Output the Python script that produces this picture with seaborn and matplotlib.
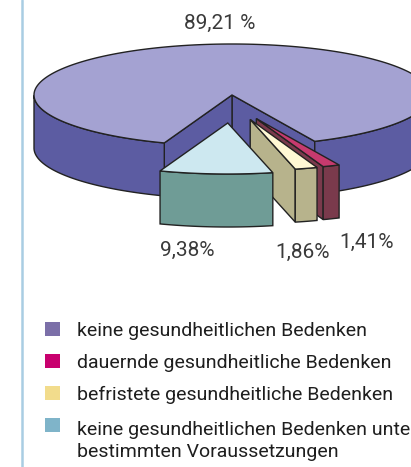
import numpy as np
import matplotlib
matplotlib.use('Agg')
import matplotlib.pyplot as plt
import seaborn as sns
from matplotlib.patches import Polygon, Rectangle

categories = ['keine gesundheitlichen Bedenken',
              'dauernde gesundheitliche Bedenken',
              'befristete gesundheitliche Bedenken',
              'keine gesundheitlichen Bedenken unter\nbestimmten Voraussetzungen']
values = [89.21, 1.41, 1.86, 9.38]
pct_labels = ['89,21 %', '1,41%', '1,86%', '9,38%']
legend_colors = ['#7b6fa8', '#c8006e', '#f2dc8c', '#7fb4c9']
top_colors = ['#a4a2d2', '#c63a6e', '#fff8d4', '#cde8f0']
side_colors = ['#5c5ca2', '#7a3a4c', '#b7b38c', '#6f9c96']
explode = [0.0, 0.5, 0.5, 0.55]

sns.set_theme(style='white')
plt.rcParams['font.family'] = ['Roboto', 'DejaVu Sans']

fig = plt.figure(figsize=(4.11, 4.67), dpi=100)
ax = fig.add_axes([0, 0, 1, 1])
ax.set_xlim(0, 411)
ax.set_ylim(467, 0)
ax.axis('off')

# pie geometry (pixel space)
cx, cy, rx, ry, depth = 232, 95, 198, 51, 53
edge = '#222222'


def pt(t, ox, oy, dz=0.0):
    r = np.radians(t)
    return cx + ox + rx * np.cos(r), cy + oy - ry * np.sin(r) + dz


def draw_slice(t1, t2, ox, oy, top, side):
    # radial cut faces
    for t, show in ((t1, np.cos(np.radians(t1)) > 0), (t2, np.cos(np.radians(t2)) < 0)):
        if show:
            x0, y0 = cx + ox, cy + oy
            x1, y1 = pt(t, ox, oy)
            ax.add_patch(Polygon([(x0, y0), (x1, y1), (x1, y1 + depth), (x0, y0 + depth)],
                                 closed=True, fc=side, ec=edge, lw=1))
    # outer wall, front part only
    ts = np.linspace(t1, t2, 400)
    vis = np.sin(np.radians(ts)) < 0
    segs, cur = [], []
    for t, v in zip(ts, vis):
        if v:
            cur.append(t)
        elif cur:
            segs.append(cur)
            cur = []
    if cur:
        segs.append(cur)
    for seg in segs:
        seg = np.array(seg)
        xt, yt = pt(seg, ox, oy)
        xb, yb = pt(seg[::-1], ox, oy, depth)
        ax.add_patch(Polygon(np.column_stack([np.r_[xt, xb], np.r_[yt, yb]]),
                             closed=True, fc=side, ec=edge, lw=1))
    # top face
    xt, yt = pt(ts, ox, oy)
    ax.add_patch(Polygon(np.column_stack([np.r_[cx + ox, xt], np.r_[cy + oy, yt]]),
                         closed=True, fc=top, ec=edge, lw=1))


total = sum(values)
order = [3, 2, 1, 0]
start = 250.0
spans = {}
for i in order:
    span = values[i] / total * 360
    spans[i] = (start, start + span)
    start += span

# back to front
for i in [0, 1, 2, 3]:
    t1, t2 = spans[i]
    mid = np.radians((t1 + t2) / 2)
    ox = explode[i] * rx * 0.65 * np.cos(mid)
    oy = -explode[i] * ry * np.sin(mid)
    draw_slice(t1, t2, ox, oy, top_colors[i], side_colors[i])

# percent labels
label_pos = [(220, 23), (367, 242), (303, 252), (187, 250)]
for (x, y), s in zip(label_pos, pct_labels):
    ax.text(x, y, s, ha='center', va='center', fontsize=15, color='#3a3a3a')

# left rule
ax.axvline(22, color='#a9cde3', lw=1.8)

# legend (drawn by hand so the square sits on the first line)
for i, (c, lab) in enumerate(zip(legend_colors, categories)):
    y = 329 + 32 * i
    ax.add_patch(Rectangle((45, y - 7), 15, 14, fc=c, ec='none'))
    ax.text(77, y + 7 + 25 * lab.count('\n'), lab, ha='left', va='baseline',
            fontsize=14, color='#1e1e1e', linespacing=1.3)

fig.savefig('out.png', dpi=100)
